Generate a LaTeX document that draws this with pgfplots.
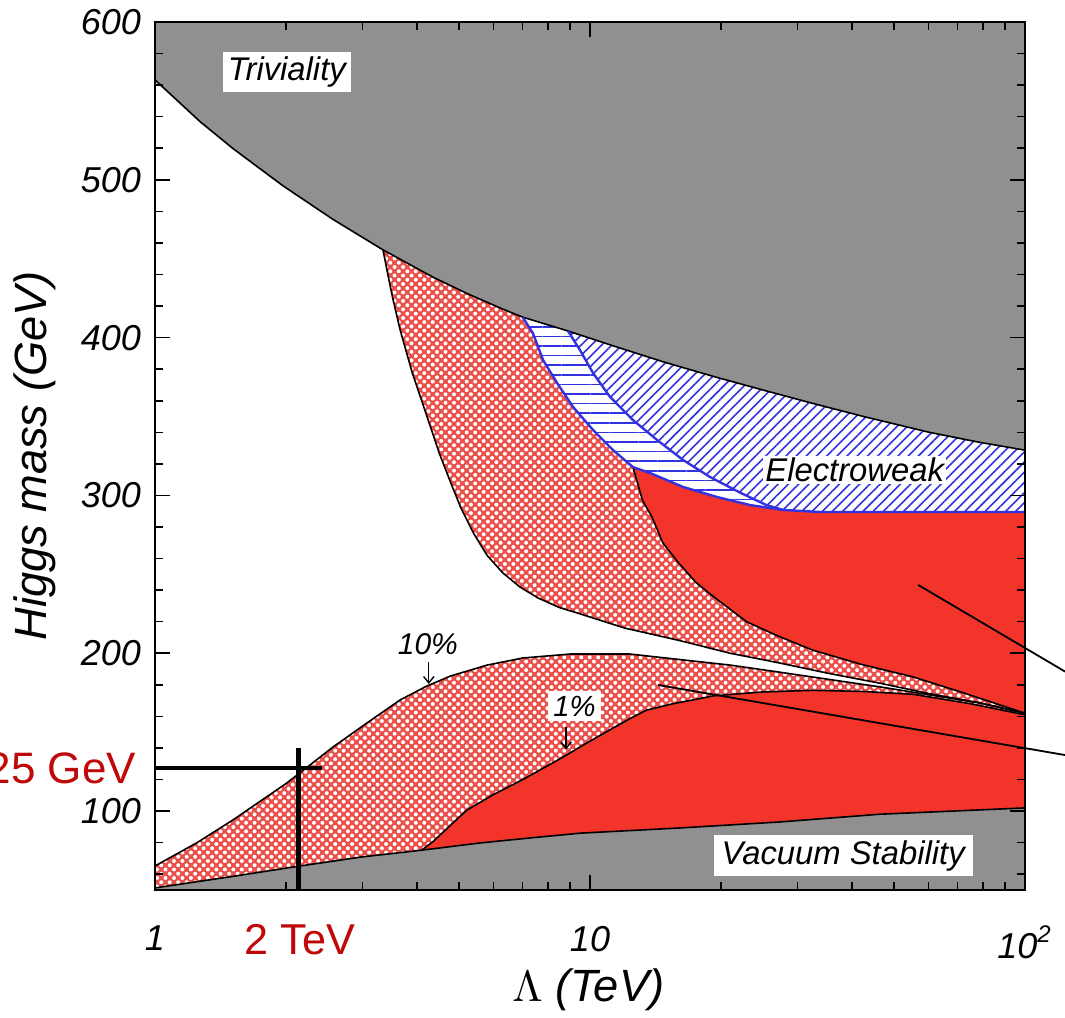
\documentclass[border=0pt]{standalone}
\usepackage{pgfplots}
\pgfplotsset{compat=1.18}
\usetikzlibrary{patterns.meta,arrows.meta}
\usepackage{fontspec}
\setmainfont{Liberation Sans}
\definecolor{trivgray}{RGB}{144,144,144}
\definecolor{solidred}{RGB}{243,52,42}
\definecolor{hatchred}{RGB}{236,80,75}
\definecolor{ewblue}{RGB}{50,50,225}
\definecolor{labred}{RGB}{192,8,8}
\newcommand{\tickfont}{\fontsize{9}{10}\selectfont\itshape}
\newcommand{\regfont}{\fontsize{8.2}{9}\selectfont\itshape}
\begin{document}
\begin{tikzpicture}
\begin{axis}[
  xmode=log, xmin=1, xmax=100, ymin=50, ymax=600,
  width=217.5pt, height=217pt, scale only axis,
  axis on top, clip=false,
  xtick={1,10,100}, xticklabels={1,10,10\textsuperscript{2}},
  minor xtick={2,3,4,5,6,7,8,9,20,30,40,50,60,70,80,90},
  ytick={100,200,300,400,500,600},
  minor ytick={60,80,120,140,160,180,220,240,260,280,320,340,360,380,420,440,460,480,520,540,560,580},
  major tick length=3.75pt, minor tick length=2pt,
  tick style={black, line width=0.4pt},
  axis line style={line width=0.6pt},
  /pgf/number format/assume math mode=true,
  ticklabel style={font=\tickfont},
  xticklabel style={yshift=-5.5pt},
  xlabel={$\Lambda$ \textit{(TeV)}},
  ylabel={\textit{Higgs mass (GeV)}},
  xlabel style={font=\fontsize{11.3}{12}\selectfont, at={(axis description cs:0.498,-0.115)}, anchor=center},
  ylabel style={font=\fontsize{11.3}{12}\selectfont, at={(axis description cs:-0.138,0.5)}, anchor=center},
]
\coordinate (ll) at (rel axis cs:0,0);
\coordinate (ur) at (rel axis cs:1,1);
% Triviality (gray, top)
\addplot[fill=trivgray, draw=none] coordinates {(1,563.3) (1.269,536.9) (1.511,519.8) (1.969,496.2) (2.566,474.9) (3.343,455.6) (4.356,438.3) (5.24,427.7) (6.31,418.0) (7.0,413.0) (8.9,404.2) (11.45,394.3) (14.72,384.7) (19.17,375.5) (24.98,366.8) (32.55,358.3) (42.42,350.1) (60.48,339.9) (77.8,333.9) (100,328.7) (100,600) (1,600)} -- cycle;
% Vacuum stability (gray, bottom)
\addplot[fill=trivgray, draw=none] coordinates {(1,50) (1,51.3) (1.5,58.5) (2.154,65.2) (3.0,71) (4.1,75.2) (5.59,79.8) (7.3,83) (9.5,86) (16.1,89.3) (27.3,93.1) (46.4,98) (100,102) (100,50)} -- cycle;
% 10% band (cross-hatched)
\addplot[fill=hatchred, draw=none, postaction={pattern={Dots[distance=1.5pt, radius=0.5pt, angle=45]}, pattern color=white}] coordinates {(1,65.2) (1.25,80) (1.511,94.4) (2.01,117.8) (2.566,140.6) (3.07,155.8) (3.66,170.4) (4.2,179) (4.77,185.5) (5.8,192.5) (7.01,197) (9,199.5) (12.35,199.5) (16.1,196) (21,192.5) (27.3,188) (46.4,178.7) (78.8,168.5) (100,162) (100,102) (46.4,98) (27.3,93.1) (16.1,89.3) (9.5,86) (7.3,83) (5.59,79.8) (4.1,75.2) (3.0,71) (2.154,65.2) (1.5,58.5) (1,51.3)} -- cycle;
% 1% region (solid red, lower)
\addplot[fill=solidred, draw=none] coordinates {(4.1,75.2) (4.35,80.5) (4.65,88) (5.21,100.6) (6.0,110.5) (7.01,120) (8.67,134.2) (9.48,140.6) (10.4,147) (12.35,158.6) (13.5,164) (15.5,168) (17.6,170.9) (19.2,173) (25,175.5) (32.5,176.5) (42.4,175.8) (55.3,174) (75,168) (100,161) (100,102) (46.4,98) (27.3,93.1) (16.1,89.3) (9.5,86) (7.3,83) (5.59,79.8)} -- cycle;
% upper 10% region (cross-hatched)
\addplot[fill=hatchred, draw=none, postaction={pattern={Dots[distance=1.5pt, radius=0.5pt, angle=45]}, pattern color=white}] coordinates {(3.343,455.6) (4.356,438.3) (5.24,427.7) (6.31,418.0) (7.0,413.0) (8.9,404.2) (11.45,394.3) (14.72,384.7) (19.17,375.5) (24.98,366.8) (32.55,358.3) (42.42,350.1) (60.48,339.9) (77.8,333.9) (100,328.7) (100,162) (78.8,168.5) (60,174.5) (46.4,181) (35,187.5) (27.3,193.8) (21,200) (16.1,208) (12,216) (9.48,225) (8.5,229) (7.6,235) (6.9,242) (6.3,251) (5.8,262) (5.4,276) (5.05,292) (4.77,309) (4.5,327) (4.22,350) (3.9,378) (3.66,405) (3.52,425) (3.43,440)} -- cycle;
% upper 1% region (solid red)
\addplot[fill=solidred, draw=none] coordinates {(12.55,318.0) (13.74,314.2) (16.36,305.4) (19.59,299.0) (23.33,293.9) (27.78,290.8) (33.8,289.5) (100,289.5) (100,162) (72,175) (55.3,185) (42,193) (32.5,202) (27,211) (22.9,220) (19.2,236) (17.5,245) (15.9,258) (14.7,270) (13.9,286) (13.2,297)} -- cycle;
% Electroweak: diagonal hatch
\addplot[fill=white, draw=none, postaction={pattern={Lines[angle=45, distance=1.8pt, line width=0.4pt]}, pattern color=ewblue}] coordinates {(8.9,404.2) (11.45,394.3) (14.72,384.7) (19.17,375.5) (24.98,366.8) (32.55,358.3) (42.42,350.1) (60.48,339.9) (77.8,333.9) (100,328.7) (100,289.5) (33.8,289.5) (27.78,290.8) (25.45,293.9) (22.2,301.6) (18.87,311.7) (16.36,322.5) (14.27,335.1) (12.55,347.8) (11.12,362.4) (10.16,377.6) (9.48,392.2)} -- cycle;
% Electroweak: horizontal hatch band
\addplot[fill=white, draw=none, postaction={pattern={Lines[angle=0, distance=2.4pt, line width=0.4pt]}, pattern color=ewblue}] coordinates {(7.0,413.0) (8.9,404.2) (9.48,392.2) (10.16,377.6) (11.12,362.4) (12.55,347.8) (14.27,335.1) (16.36,322.5) (18.87,311.7) (22.2,301.6) (25.45,293.9) (27.78,290.8) (23.33,293.9) (19.59,299.0) (16.36,305.4) (13.74,314.2) (12.55,318.0) (11.29,328.8) (10.16,341.5) (9.14,356.1) (8.40,371.3) (7.80,385.8) (7.39,402.9)} -- cycle;
% boundary lines
\addplot[black, line width=0.4pt] coordinates {(1,563.3) (1.269,536.9) (1.511,519.8) (1.969,496.2) (2.566,474.9) (3.343,455.6) (4.356,438.3) (5.24,427.7) (6.31,418.0) (7.0,413.0) (8.9,404.2) (11.45,394.3) (14.72,384.7) (19.17,375.5) (24.98,366.8) (32.55,358.3) (42.42,350.1) (60.48,339.9) (77.8,333.9) (100,328.7)};
\addplot[black, line width=0.4pt] coordinates {(1,51.3) (1.5,58.5) (2.154,65.2) (3.0,71) (4.1,75.2) (5.59,79.8) (7.3,83) (9.5,86) (16.1,89.3) (27.3,93.1) (46.4,98) (100,102)};
\addplot[black, line width=0.4pt] coordinates {(1,65.2) (1.25,80) (1.511,94.4) (2.01,117.8) (2.566,140.6) (3.07,155.8) (3.66,170.4) (4.2,179) (4.77,185.5) (5.8,192.5) (7.01,197) (9,199.5) (12.35,199.5) (16.1,196) (21,192.5) (27.3,188) (46.4,178.7) (78.8,168.5) (100,162)};
\addplot[black, line width=0.4pt] coordinates {(4.1,75.2) (4.35,80.5) (4.65,88) (5.21,100.6) (6.0,110.5) (7.01,120) (8.67,134.2) (9.48,140.6) (10.4,147) (12.35,158.6) (13.5,164) (15.5,168) (17.6,170.9) (19.2,173) (25,175.5) (32.5,176.5) (42.4,175.8) (55.3,174) (75,168) (100,161)};
\addplot[black, line width=0.4pt] coordinates {(3.343,455.6) (3.43,440) (3.52,425) (3.66,405) (3.9,378) (4.22,350) (4.5,327) (4.77,309) (5.05,292) (5.4,276) (5.8,262) (6.3,251) (6.9,242) (7.6,235) (8.5,229) (9.48,225) (12,216) (16.1,208) (21,200) (27.3,193.8) (35,187.5) (46.4,181) (60,174.5) (78.8,168.5) (100,162)};
\addplot[black, line width=0.4pt] coordinates {(12.55,318) (13.2,297) (13.9,286) (14.7,270) (15.9,258) (17.5,245) (19.2,236) (22.9,220) (27,211) (32.5,202) (42,193) (55.3,185) (72,175) (100,162)};
\addplot[ewblue, line width=0.6pt] coordinates {(7.0,413.0) (7.39,402.9) (7.80,385.8) (8.40,371.3) (9.14,356.1) (10.16,341.5) (11.29,328.8) (12.55,318.0) (13.74,314.2) (16.36,305.4) (19.59,299.0) (23.33,293.9) (27.78,290.8) (33.8,289.5) (100,289.5)};
\addplot[ewblue, line width=0.6pt] coordinates {(8.9,404.2) (9.48,392.2) (10.16,377.6) (11.12,362.4) (12.55,347.8) (14.27,335.1) (16.36,322.5) (18.87,311.7) (22.2,301.6) (25.45,293.9) (27.78,290.8)};
% leader lines to the right
\addplot[black, line width=0.45pt] coordinates {(56.8,243.3) (123.6,188.4)};
\addplot[black, line width=0.45pt] coordinates {(14.33,179.9) (123.6,135.5)};
% 125 GeV / 2 TeV cross
\addplot[black, line width=1.2pt] coordinates {(1,127.3) (2.42,127.3)};
\addplot[black, line width=1.2pt] coordinates {(2.14,140) (2.14,50)};
% labels
\node[fill=white, inner xsep=1.2pt, inner ysep=1.2pt, font=\regfont] at (axis cs:2.01,568.3) {Triviality};
\node[fill=white, inner xsep=2pt, inner ysep=1.3pt, font=\regfont] at (axis cs:38.2,71.6) {Vacuum Stability};
\node[fill=white, inner sep=0.6pt, font=\regfont] at (axis cs:40.6,316.1) {Electroweak};
\node[font=\fontsize{7.5}{8}\selectfont\itshape] at (axis cs:4.24,205.9) {10\%};
\draw[-{Straight Barb[length=1.6pt,width=2.6pt]}, line width=0.35pt] (axis cs:4.26,194.5) -- (axis cs:4.26,180.5);
\node[fill=white, inner sep=1.3pt, font=\fontsize{7.3}{8}\selectfont\itshape] at (axis cs:9.21,166.6) {1\%};
\draw[-{Straight Barb[length=1.6pt,width=2.6pt]}, line width=0.35pt] (axis cs:8.81,153.3) -- (axis cs:8.81,139);
\node[anchor=east, text=labred, font=\fontsize{11}{12}\selectfont, xshift=-1.2pt] at (axis cs:1,127.3) {125 GeV};
\node[text=labred, font=\fontsize{10.8}{12}\selectfont, yshift=-12.5pt] at (axis cs:2.154,50) {2 TeV};
\end{axis}
\pgfresetboundingbox
\path[use as bounding box] ([xshift=-38.75pt,yshift=-32pt]ll) rectangle ([xshift=10pt,yshift=5.5pt]ur);
\end{tikzpicture}
\end{document}
